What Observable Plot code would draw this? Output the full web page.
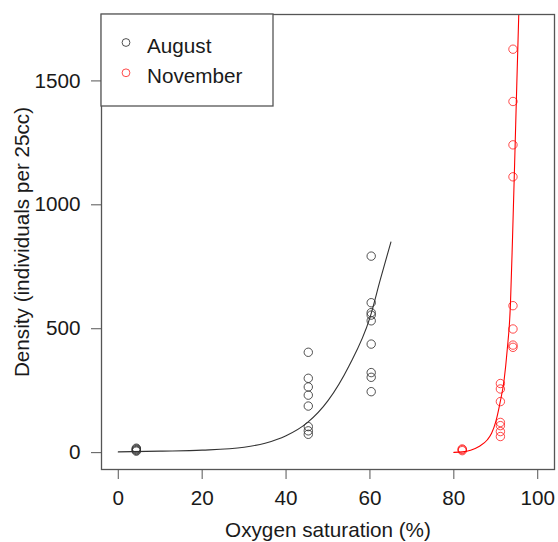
<!DOCTYPE html>
<html><head><meta charset="utf-8">
<script src="https://cdn.jsdelivr.net/npm/d3@7"></script>
<script src="https://cdn.jsdelivr.net/npm/@observablehq/plot@0.6"></script>
<style>body{margin:0;background:#fff;} #chart svg{display:block;}</style>
</head><body><div id="chart"></div>
<script>
// Observed points
const augustO2 = [4.3, 4.3, 4.3, 4.3, 4.3,
  45.3, 45.3, 45.3, 45.3, 45.3, 45.3, 45.3, 45.3,
  60.3, 60.3, 60.3, 60.3, 60.3, 60.3, 60.3, 60.3, 60.3];
const augustDensity = [6, 9, 12, 15, 18,
  405, 300, 265, 232, 188, 105, 88, 74,
  793, 605, 565, 555, 532, 438, 323, 304, 246];
const novemberO2 = [82.0, 82.0, 82.0,
  91.1, 91.1, 91.1, 91.1, 91.1, 91.1, 91.1,
  94.1, 94.1, 94.1, 94.1, 94.1, 94.1, 94.1, 94.1];
const novemberDensity = [8, 12, 15,
  279, 257, 206, 122, 109, 85, 65,
  1628, 1417, 1242, 1113, 593, 499, 434, 425];
// Fitted curves
const augustFitO2 = [0, 10, 20, 30, 35, 40, 45, 50, 55, 60, 62.5, 65];
const augustFitDensity = [3, 6, 10, 22, 38, 68, 120, 210, 350, 545, 700, 850];
const novemberFitO2 = [80, 82, 84, 86, 88, 89, 90, 91, 92, 92.7, 93.5, 94, 94.5, 95, 95.5, 96];
const novemberFitDensity = [1, 3, 10, 25, 52, 78, 125, 200, 295, 410, 600, 870, 1170, 1480, 1780, 2100];
// Axes
const xTicks = [0, 20, 40, 60, 80, 100];
const yTicks = [0, 500, 1000, 1500];
const xTitle = "Oxygen saturation (%)";
const yTitle = "Density (individuals per 25cc)";
const seriesNames = ["August", "November"];
const seriesColors = ["#333333", "#ff0000"];

const zip = (xs, ys) => xs.map((x, i) => ({x, y: ys[i]}));
const augPts = zip(augustO2, augustDensity);
const novPts = zip(novemberO2, novemberDensity);
const augFit = zip(augustFitO2, augustFitDensity);
const novFit = zip(novemberFitO2, novemberFitDensity);

const FONT = "'Liberation Sans', Arial, Helvetica, sans-serif";
const FS = 20.7;
const R = 4.2;

const plot = Plot.plot({
  width: 558, height: 542,
  marginLeft: 101, marginRight: 4, marginTop: 14, marginBottom: 73,
  style: {fontFamily: FONT, fontSize: FS + "px", color: "#1a1a1a", background: "#fff"},
  x: {domain: [-4, 104]},
  y: {domain: [-68, 1768]},
  marks: [
    Plot.axisX({ticks: xTicks, tickSize: 10, tickPadding: 11, label: null, stroke: "#555", fill: "#1a1a1a", tickFormat: d => String(d)}),
    Plot.axisY({ticks: yTicks, tickSize: 10, tickPadding: 11, label: null, stroke: "#555", fill: "#1a1a1a", tickFormat: d => String(d)}),
    Plot.line(augFit, {x: "x", y: "y", stroke: seriesColors[0], strokeWidth: 1.1, curve: "monotone-x", clip: true}),
    Plot.line(novFit, {x: "x", y: "y", stroke: seriesColors[1], strokeWidth: 1.1, curve: "monotone-x", clip: true}),
    Plot.dot(augPts, {x: "x", y: "y", r: R, stroke: seriesColors[0], strokeOpacity: 0.85, strokeWidth: 1, fill: "none"}),
    Plot.dot(novPts, {x: "x", y: "y", r: R, stroke: seriesColors[1], strokeOpacity: 0.7, strokeWidth: 1, fill: "none"}),
    Plot.frame({stroke: "#555", strokeWidth: 1.3}),
    Plot.text([yTitle], {text: d => d, frameAnchor: "left", textAnchor: "middle", lineAnchor: "middle", rotate: -90, dx: -79, fill: "#1a1a1a"}),
    Plot.text([xTitle], {text: d => d, frameAnchor: "bottom", textAnchor: "middle", lineAnchor: "top", dy: 53, fill: "#1a1a1a"})
  ]
});
document.getElementById("chart").appendChild(plot);

// Legend (R-style box in the top-left corner)
const svg = d3.select(plot);
const lg = svg.append("g").attr("font-family", FONT).attr("font-size", FS + "px").attr("text-anchor", "start");
lg.append("rect").attr("x", 101).attr("y", 14).attr("width", 172).attr("height", 92)
  .attr("fill", "#fff").attr("stroke", "#555").attr("stroke-width", 1.3);
seriesNames.forEach((name, i) => {
  const cy = 42.5 + i * 30.3;
  lg.append("circle").attr("cx", 126).attr("cy", cy).attr("r", 3.9)
    .attr("fill", "none").attr("stroke", seriesColors[i]).attr("stroke-opacity", i ? 0.7 : 0.85).attr("stroke-width", 1);
  lg.append("text").attr("x", 147).attr("y", cy + 10.3).attr("text-anchor", "start").attr("fill", "#1a1a1a").text(name);
});
</script>
</body></html>
